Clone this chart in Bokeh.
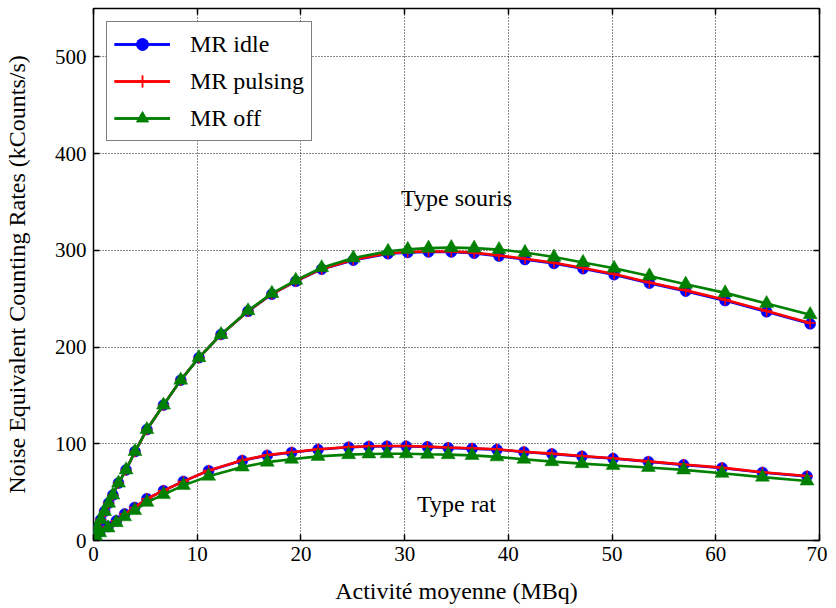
from bokeh.plotting import figure
from bokeh.models import (LinearAxis, Range1d, Label, Legend, LegendItem,
                          CustomLabelingPolicy)
from bokeh.embed import file_html
from bokeh.resources import INLINE

# ---------------- data ----------------
souris_x = [0.12, 0.36, 0.69, 1.07, 1.46, 1.87, 2.41, 3.14, 4.0, 5.15, 6.75, 8.41,
            10.17, 12.3, 14.9, 17.2, 19.5, 22.0, 25.05, 28.4, 30.3, 32.3, 34.5,
            36.7, 39.1, 41.6, 44.4, 47.2, 50.2, 53.6, 57.1, 60.9, 64.9, 69.1]
souris_idle = [4.5, 13.5, 21.4, 30.0, 38.6, 47.0, 59.4, 73.0, 92.0, 114.7, 140.0, 165.8,
               189.0, 213.0, 237.0, 254.6, 268.0, 280.5, 289.8, 296.5, 297.8, 298.3, 298.3,
               297.0, 294.0, 290.5, 286.5, 281.0, 274.8, 266.0, 257.8, 248.0, 236.5, 224.0]
souris_pulsing = [4.5, 13.5, 21.4, 30.0, 38.6, 47.0, 59.4, 73.0, 92.0, 114.7, 140.0, 165.8,
                  189.0, 213.0, 237.0, 254.8, 268.2, 280.8, 290.2, 297.0, 298.3, 298.8, 298.8,
                  297.6, 294.6, 291.2, 287.2, 281.8, 275.6, 266.8, 258.6, 248.8, 237.3, 224.8]
souris_off = [4.5, 13.5, 21.4, 30.0, 38.6, 47.0, 59.4, 73.0, 92.0, 114.7, 140.0, 165.8,
              189.0, 213.0, 237.5, 255.5, 269.0, 282.0, 292.0, 299.0, 301.0, 302.3, 302.8,
              302.3, 300.8, 297.8, 293.0, 287.5, 281.5, 273.5, 265.0, 256.0, 245.0, 233.5]

rat_x = [0.2, 0.6, 1.4, 2.2, 3.0, 3.97, 5.15, 6.75, 8.67, 11.1, 14.35, 16.75, 19.1,
         21.65, 24.6, 26.55, 28.3, 30.15, 32.2, 34.2, 36.5, 38.9, 41.5, 44.2, 47.1,
         50.1, 53.5, 56.9, 60.6, 64.5, 68.8]
rat_idle = [5.5, 9.3, 14.5, 20.4, 27.3, 34.2, 43.2, 51.5, 61.1, 72.2, 82.6, 88.0, 91.0,
            94.0, 96.4, 97.2, 97.4, 97.4, 96.8, 95.8, 95.0, 94.0, 91.5, 89.5, 87.0,
            84.7, 81.5, 78.2, 75.0, 70.3, 66.3]
rat_pulsing = [5.5, 9.3, 14.5, 20.4, 27.3, 34.2, 43.2, 51.5, 61.1, 72.4, 82.9, 88.3, 91.3,
               94.3, 96.7, 97.5, 97.7, 97.7, 97.1, 96.1, 95.3, 94.3, 91.8, 89.8, 87.3,
               85.0, 81.8, 78.5, 75.3, 70.6, 66.6]
rat_off = [4.5, 8.0, 13.0, 18.5, 24.5, 31.0, 39.5, 47.5, 57.0, 66.5, 76.0, 81.0, 84.0,
           87.0, 88.8, 89.5, 89.7, 89.7, 89.2, 88.8, 88.0, 86.5, 84.0, 81.5, 79.5,
           77.5, 75.5, 73.0, 69.5, 65.5, 61.5]

x_ticks = [0, 10, 20, 30, 40, 50, 60, 70]
y_ticks = [0, 100, 200, 300, 400, 500]
series_labels = ["MR idle", "MR pulsing", "MR off"]
annotations = ["Type souris", "Type rat"]

FONT = "Liberation Serif"
LBL = "24px"

p = figure(width=827, height=606, x_range=Range1d(0, 70), y_range=Range1d(0, 550),
           output_backend="svg", toolbar_location=None,
           min_border_left=92, min_border_right=8, min_border_top=8, min_border_bottom=66)
p.background_fill_color = "white"
p.border_fill_color = "white"
p.outline_line_color = "black"
p.outline_line_width = 1.5

# axes
for ax in (p.xaxis[0], p.yaxis[0]):
    ax.major_label_text_font = FONT
    ax.major_label_text_font_size = "21px"
    ax.major_label_text_color = "black"
    ax.axis_label_text_font = FONT
    ax.axis_label_text_font_size = LBL
    ax.axis_label_text_font_style = "normal"
    ax.axis_label_text_color = "black"
    ax.major_tick_in = 6
    ax.major_tick_out = 0
    ax.major_tick_line_width = 1.5
    ax.minor_tick_line_color = None
    ax.axis_line_color = None

p.xaxis[0].ticker = x_ticks
p.yaxis[0].ticker = y_ticks
p.xaxis[0].axis_label = "Activité moyenne (MBq)"
p.yaxis[0].axis_label = "Noise Equivalent Counting Rates (kCounts/s)"
p.xaxis[0].major_label_standoff = 6
p.yaxis[0].major_label_standoff = 7
p.xaxis[0].axis_label_standoff = 14
p.yaxis[0].axis_label_standoff = 22

hide_all = CustomLabelingPolicy(code="""
for (let i = 0; i < indices.size; i++) { indices.unset(i) }
return indices
""")
top = LinearAxis(ticker=x_ticks, major_label_text_font_size="0px", major_label_standoff=0,
                 major_label_policy=hide_all,
                 major_tick_in=6, major_tick_out=0, major_tick_line_width=1.5,
                 minor_tick_line_color=None, axis_line_color=None)
right = LinearAxis(ticker=y_ticks, major_label_text_font_size="0px", major_label_standoff=0,
                   major_label_policy=hide_all,
                   major_tick_in=6, major_tick_out=0, major_tick_line_width=1.5,
                   minor_tick_line_color=None, axis_line_color=None)
p.add_layout(top, "above")
p.add_layout(right, "right")

# grid
for g in (p.xgrid[0], p.ygrid[0]):
    g.grid_line_color = "black"
    g.grid_line_dash = "1 2"
    g.grid_line_width = 1
    g.grid_line_alpha = 0.9
p.xgrid[0].ticker = x_ticks
p.ygrid[0].ticker = y_ticks

# series
items = {lab: [] for lab in series_labels}
specs = [
    ("MR idle", "#0000ff", "circle", 11, [(souris_x, souris_idle), (rat_x, rat_idle)]),
    ("MR pulsing", "#ff0000", "cross", 11, [(souris_x, souris_pulsing), (rat_x, rat_pulsing)]),
    ("MR off", "#008000", "triangle", 14, [(souris_x, souris_off), (rat_x, rat_off)]),
]
for lab, col_hex, marker, size, data in specs:
    for xs, ys in data:
        l = p.line(xs, ys, line_color=col_hex, line_width=2.6)
        if marker == "cross":
            s = p.scatter(xs, ys, marker="cross", size=size, line_color=col_hex, line_width=1.5)
        else:
            s = p.scatter(xs, ys, marker=marker, size=size, fill_color=col_hex,
                          line_color=col_hex, line_width=0.5)
        items[lab].append(l)
        items[lab].append(s)

legend = Legend(items=[LegendItem(label=lab, renderers=items[lab]) for lab in series_labels],
                location="top_left")
legend.label_text_font = FONT
legend.label_text_font_size = LBL
legend.label_text_color = "black"
legend.border_line_color = "black"
legend.border_line_width = 1.5
legend.background_fill_alpha = 1
legend.margin = 13
legend.padding = 7
legend.spacing = 7
legend.glyph_width = 56
legend.glyph_height = 30
legend.label_height = 30
legend.label_standoff = 20
p.add_layout(legend, "center")

p.add_layout(Label(x=35, y=354, text=annotations[0], text_font=FONT, text_font_size=LBL,
                   text_align="center", text_baseline="middle", text_color="black"))
p.add_layout(Label(x=35, y=38, text=annotations[1], text_font=FONT, text_font_size=LBL,
                   text_align="center", text_baseline="middle", text_color="black"))

open("out.html", "w").write(file_html(p, INLINE))
